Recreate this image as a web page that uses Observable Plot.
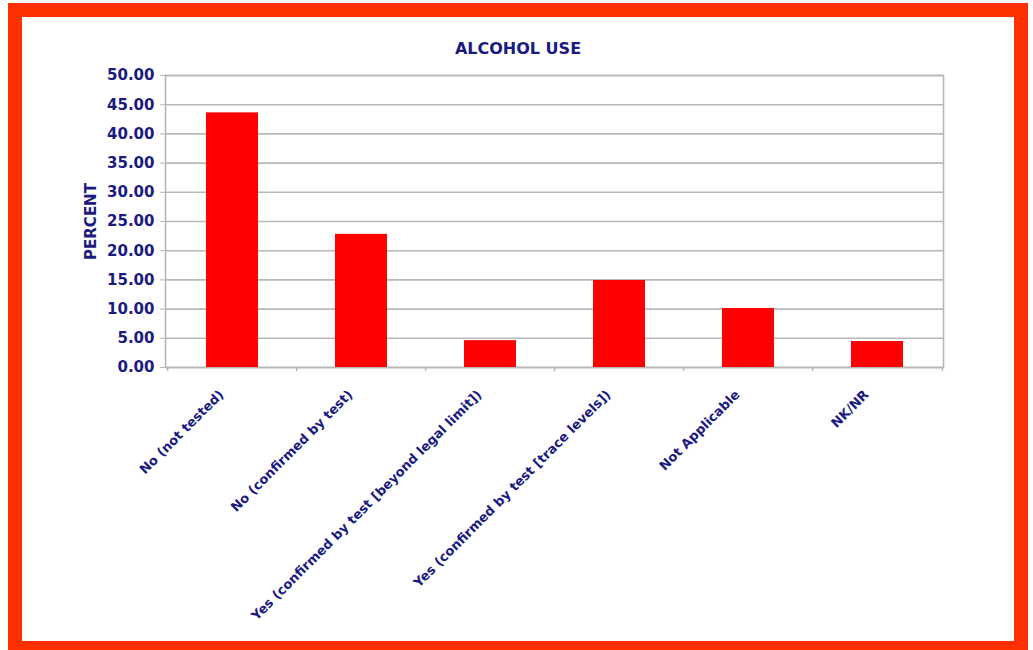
<!DOCTYPE html>
<html>
<head>
<meta charset="utf-8">
<script src="https://cdn.jsdelivr.net/npm/d3@7"></script>
<script src="https://cdn.jsdelivr.net/npm/@observablehq/plot@0.6"></script>
<style>
  html, body { margin: 0; padding: 0; background: #ffffff; overflow: hidden; }
  #wrap { position: relative; width: 1033px; height: 650px; overflow: hidden; }
  #frame { position: absolute; left: 8px; top: 3px; width: 1020px; height: 652px; box-sizing: border-box; border: 14px solid #ff3000; background: #ffffff; }
  #title { position: absolute; left: 0; top: 39px; width: 1036px; text-align: center; font-family: "DejaVu Sans", sans-serif; font-weight: bold; font-size: 16px; color: #1a1a80; }
  #chart { position: absolute; left: 0; top: 0; }
</style>
</head>
<body>
<div id="wrap">
  <div id="frame"></div>
  <div id="chart"></div>
  <div id="title">ALCOHOL USE</div>
</div>
<script>
const categories = [
  "No (not tested)",
  "No (confirmed by test)",
  "Yes (confirmed by test [beyond legal limit])",
  "Yes (confirmed by test [trace levels])",
  "Not Applicable",
  "NK/NR"
];
const values = [43.6, 22.8, 4.6, 14.9, 10.1, 4.45];
const yTicks = [0, 5, 10, 15, 20, 25, 30, 35, 40, 45, 50];

const data = categories.map((c, i) => ({category: c, value: values[i]}));
const navy = "#1a1a80";
const grid = "#b8b8b8";
const W = 1033, H = 650, mL = 165, mR = 90, mT = 75, mB = 283;
const step = (W - mL - mR) / categories.length;

const chart = Plot.plot({
  width: W,
  height: H,
  marginLeft: mL,
  marginRight: mR,
  marginTop: mT,
  marginBottom: mB,
  style: {background: "transparent", fontFamily: "DejaVu Sans, sans-serif", color: navy},
  x: {domain: categories, paddingInner: 0.6, paddingOuter: 0.3},
  y: {domain: [0, 50]},
  marks: [
    Plot.gridY(yTicks, {stroke: grid, strokeOpacity: 1, strokeWidth: 1.6}),
    Plot.frame({stroke: grid, strokeWidth: 1.6}),
    Plot.barY(data, {x: "category", y: "value", fill: "#ff0000"}),
    Plot.ruleX(categories, {x: d => d, y1: 0, y2: -0.7, dx: -step / 2, stroke: grid, strokeWidth: 1.5}),
    Plot.ruleX([categories[categories.length - 1]], {x: d => d, y1: 0, y2: -0.7, dx: step / 2, stroke: grid, strokeWidth: 1.5}),
    Plot.axisY(yTicks, {
      tickFormat: d => d.toFixed(2), tickSize: 5, tickPadding: 6,
      stroke: grid, fill: navy, fontSize: 15, fontWeight: "bold",
      label: "PERCENT", labelAnchor: "center", labelArrow: "none", labelOffset: 80
    }),
    Plot.axisX({
      tickSize: 0, tickPadding: 25, tickRotate: -45, dx: -11,
      fontSize: 13, fontWeight: "bold", fill: navy, label: null
    })
  ]
});
document.getElementById("chart").appendChild(chart);
</script>
</body>
</html>
